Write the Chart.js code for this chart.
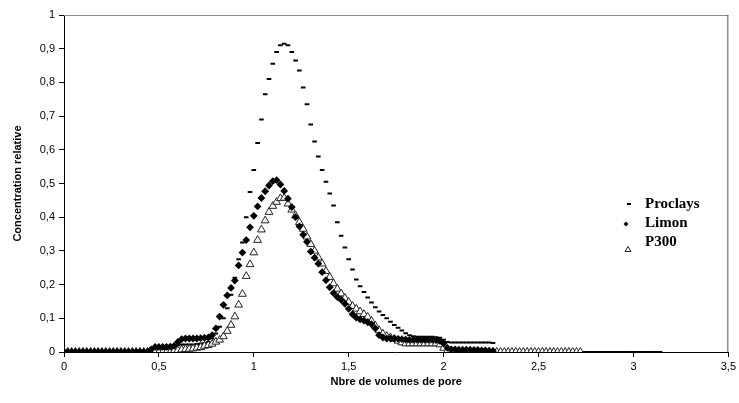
<!DOCTYPE html>
<html>
<head>
<meta charset="utf-8">
<script src="https://cdn.jsdelivr.net/npm/chart.js@4.4.1/dist/chart.umd.min.js"></script>
<style>
  html, body { margin: 0; padding: 0; background: #fff; }
  #wrap { width: 739px; height: 403px; }
</style>
</head>
<body>
<div id="wrap"><canvas id="chart" width="739" height="403"></canvas></div>
<script>
// Nbre de volumes de pore (pas de 0,02)
const volumes = [
  0, 0.02, 0.04, 0.06, 0.08, 0.10, 0.12, 0.14, 0.16, 0.18,
  0.20, 0.22, 0.24, 0.26, 0.28, 0.30, 0.32, 0.34, 0.36, 0.38,
  0.40, 0.42, 0.44, 0.46, 0.48, 0.50, 0.52, 0.54, 0.56, 0.58,
  0.60, 0.62, 0.64, 0.66, 0.68, 0.70, 0.72, 0.74, 0.76, 0.78,
  0.80, 0.82, 0.84, 0.86, 0.88, 0.90, 0.92, 0.94, 0.96, 0.98,
  1.00, 1.02, 1.04, 1.06, 1.08, 1.10, 1.12, 1.14, 1.16, 1.18,
  1.20, 1.22, 1.24, 1.26, 1.28, 1.30, 1.32, 1.34, 1.36, 1.38,
  1.40, 1.42, 1.44, 1.46, 1.48, 1.50, 1.52, 1.54, 1.56, 1.58,
  1.60, 1.62, 1.64, 1.66, 1.68, 1.70, 1.72, 1.74, 1.76, 1.78,
  1.80, 1.82, 1.84, 1.86, 1.88, 1.90, 1.92, 1.94, 1.96, 1.98,
  2.00, 2.02, 2.04, 2.06, 2.08, 2.10, 2.12, 2.14, 2.16, 2.18,
  2.20, 2.22, 2.24, 2.26, 2.28, 2.30, 2.32, 2.34, 2.36, 2.38,
  2.40, 2.42, 2.44, 2.46, 2.48, 2.50, 2.52, 2.54, 2.56, 2.58,
  2.60, 2.62, 2.64, 2.66, 2.68, 2.70, 2.72, 2.74, 2.76, 2.78,
  2.80, 2.82, 2.84, 2.86, 2.88, 2.90, 2.92, 2.94, 2.96, 2.98,
  3.00, 3.02, 3.04, 3.06, 3.08, 3.10, 3.12, 3.14, 3.16
];

// Concentration relative, une valeur par volume (null = pas de mesure)
const proclays = [
  0, 0, 0, 0, 0, 0, 0, 0, 0, 0,
  0, 0, 0, 0, 0, 0, 0, 0, 0, 0,
  0, 0, 0, 0, 0, 0.01, 0.01, 0.01, 0.012, 0.015,
  0.02, 0.022, 0.022, 0.022, 0.022, 0.024, 0.025, 0.026, 0.03, 0.04,
  0.055, 0.075, 0.10, 0.13, 0.17, 0.22, 0.275, 0.325, 0.40, 0.475,
  0.54, 0.62, 0.69, 0.765, 0.81, 0.855, 0.89, 0.91, 0.915, 0.91,
  0.89, 0.865, 0.835, 0.785, 0.735, 0.675, 0.625, 0.58, 0.54, 0.505,
  0.47, 0.435, 0.385, 0.345, 0.31, 0.275, 0.245, 0.215, 0.195, 0.178,
  0.162, 0.147, 0.133, 0.12, 0.11, 0.10, 0.09, 0.08, 0.072, 0.064,
  0.056, 0.05, 0.047, 0.045, 0.045, 0.045, 0.045, 0.045, 0.044, 0.042,
  0.036, 0.03, 0.028, 0.028, 0.028, 0.028, 0.028, 0.028, 0.028, 0.028,
  0.028, 0.028, 0.028, 0.027, 0, 0, 0, 0, 0, 0,
  0, 0, 0, 0, 0, 0, 0, 0, 0, 0,
  0, 0, 0, 0, 0, 0, 0, 0, 0, 0,
  0, 0, 0, 0, 0, 0, 0, 0, 0, 0,
  0, 0, 0, 0, 0, 0, 0, 0, null
];

const limon = [
  0, 0, 0, 0, 0, 0, 0, 0, 0, 0,
  0, 0, 0, 0, 0, 0, 0, 0, 0, 0,
  0, 0, 0, 0.008, 0.015, 0.015, 0.015, 0.015, 0.016, 0.018,
  0.03, 0.038, 0.04, 0.04, 0.04, 0.04, 0.041, 0.042, 0.043, 0.05,
  0.07, 0.105, 0.14, 0.168, 0.19, 0.212, 0.257, 0.295, 0.332, 0.37,
  0.404, 0.432, 0.457, 0.477, 0.494, 0.507, 0.51, 0.497, 0.478, 0.455,
  0.43, 0.40, 0.373, 0.348, 0.327, 0.298, 0.28, 0.262, 0.237, 0.213,
  0.192, 0.175, 0.163, 0.155, 0.143, 0.128, 0.112, 0.102, 0.097, 0.093,
  0.088, 0.083, 0.07, 0.05, 0.043, 0.04, 0.04, 0.04, 0.039, 0.038,
  0.037, 0.036, 0.036, 0.036, 0.036, 0.036, 0.036, 0.036, 0.035, 0.033,
  0.025, 0.012, 0.008, 0.008, 0.007, 0.007, 0.007, 0.007, 0.006, 0.006,
  0.005, 0.005, 0.004, 0.003, null, null, null, null, null, null,
  null, null, null, null, null, null, null, null, null, null,
  null, null, null, null, null, null, null, null, null, null,
  null, null, null, null, null, null, null, null, null, null,
  null, null, null, null, null, null, null, null, null
];

const p300 = [
  0, 0, 0, 0, 0, 0, 0, 0, 0, 0,
  0, 0, 0, 0, 0, 0, 0, 0, 0, 0,
  0, 0, 0, 0, 0, 0, 0, 0, 0, 0.003,
  0.005, 0.007, 0.008, 0.009, 0.01, 0.012, 0.014, 0.018, 0.02, 0.024,
  0.03, 0.036, 0.046, 0.062, 0.08, 0.105, 0.14, 0.172, 0.225, 0.26,
  0.295, 0.332, 0.363, 0.39, 0.415, 0.433, 0.445, 0.456, 0.457, 0.44,
  0.422, 0.405, 0.385, 0.365, 0.342, 0.32, 0.30, 0.28, 0.262, 0.24,
  0.222, 0.203, 0.187, 0.173, 0.16, 0.148, 0.136, 0.128, 0.12, 0.112,
  0.104, 0.092, 0.078, 0.064, 0.054, 0.047, 0.043, 0.038, 0.033, 0.028,
  0.025, 0.025, 0.025, 0.025, 0.025, 0.025, 0.025, 0.025, 0.025, 0.022,
  0.012, 0.004, 0, 0, 0, 0, 0, 0, 0, 0,
  0, 0, 0, 0, 0, 0, 0, 0, 0, 0,
  0, 0, 0, 0, 0, 0, 0, 0, 0, 0,
  0, 0, 0, 0, 0, 0, 0, null, null, null,
  null, null, null, null, null, null, null, null, null, null,
  null, null, null, null, null, null, null, null, null
];

const seriesNames = ["Proclays", "Limon", "P300"];

/**
 * Associe les volumes et une série en points {x, y}, sans les valeurs manquantes.
 * @param {number[]} values
 * @returns {{x:number, y:number}[]}
 */
function toPoints(values) {
  return volumes
    .map((x, i) => ({ x, y: values[i] }))
    .filter((p) => p.y !== null && p.y !== undefined);
}

/** Format français : 0.5 -> "0,5" */
function frNumber(v) {
  return String(Number(v.toFixed(1))).replace(".", ",");
}

// cadre gris (haut, droite) + légende à l'intérieur du graphique
const frameAndLegend = {
  id: "frameAndLegend",
  afterDraw(chart) {
    const { ctx, chartArea: a } = chart;
    ctx.save();
    ctx.lineWidth = 1;
    ctx.strokeStyle = "#8a8a8a";
    ctx.beginPath();
    ctx.moveTo(a.left, a.top + 0.5);
    ctx.lineTo(a.right, a.top + 0.5);
    ctx.stroke();
    ctx.strokeStyle = "#555";
    ctx.beginPath();
    ctx.moveTo(a.right - 0.5, a.top);
    ctx.lineTo(a.right - 0.5, a.bottom);
    ctx.stroke();

    // marqueurs
    ctx.fillStyle = "#000";
    ctx.fillRect(627, 203, 4, 2);

    ctx.beginPath();
    ctx.moveTo(626, 221.5);
    ctx.lineTo(628.5, 224);
    ctx.lineTo(626, 226.5);
    ctx.lineTo(623.5, 224);
    ctx.closePath();
    ctx.fill();

    ctx.strokeStyle = "#222";
    ctx.beginPath();
    ctx.moveTo(628, 246.5);
    ctx.lineTo(631, 251.5);
    ctx.lineTo(625, 251.5);
    ctx.closePath();
    ctx.stroke();

    // textes
    ctx.font = "bold 15px 'Liberation Serif'";
    ctx.textBaseline = "alphabetic";
    ctx.textAlign = "left";
    ctx.fillText(seriesNames[0], 645, 207.5);
    ctx.fillText(seriesNames[1], 645, 227);
    ctx.fillText(seriesNames[2], 645, 246);
    ctx.restore();
  },
};

const tickFont = { family: "'Liberation Sans'", size: 11 };
const titleFont = { family: "'Liberation Sans'", size: 11, weight: "bold" };

new Chart(document.querySelector("#chart"), {
  type: "scatter",
  data: {
    datasets: [
      {
        label: seriesNames[1],
        data: toPoints(limon),
        pointStyle: "rectRot",
        pointRadius: 3.9,
        backgroundColor: "#000",
        borderColor: "#000",
        borderWidth: 0,
        order: 1,
      },
      {
        label: seriesNames[2],
        data: toPoints(p300),
        pointStyle: "triangle",
        pointRadius: 4.5,
        backgroundColor: "#fff",
        borderColor: "#222",
        borderWidth: 1,
        order: 2,
      },
      {
        label: seriesNames[0],
        data: toPoints(proclays),
        pointStyle: "line",
        pointRadius: 2.3,
        borderColor: "#000",
        borderWidth: 2,
        order: 3,
      },
    ],
  },
  options: {
    responsive: false,
    animation: false,
    devicePixelRatio: 1,
    layout: { padding: { top: 15, right: 2, left: 0, bottom: 0 } },
    plugins: { legend: { display: false }, tooltip: { enabled: false } },
    scales: {
      x: {
        type: "linear",
        min: 0,
        max: 3.5,
        afterFit: (s) => { s.height = 51; },
        ticks: { stepSize: 0.5, color: "#000", font: tickFont, padding: 3, callback: frNumber },
        grid: { drawOnChartArea: false, tickLength: 5, color: "#000" },
        border: { color: "#000", width: 1 },
        title: { display: true, text: "Nbre de volumes de pore", color: "#000", font: titleFont, padding: { top: 0, bottom: 14 } },
      },
      y: {
        min: 0,
        max: 1,
        afterFit: (s) => { s.width = 64; },
        ticks: { stepSize: 0.1, color: "#000", font: tickFont, padding: 4, callback: frNumber },
        grid: { drawOnChartArea: false, tickLength: 5, color: "#000" },
        border: { color: "#000", width: 1 },
        title: { display: true, text: "Concentration relative", color: "#000", font: titleFont, padding: { top: 11, bottom: 0 } },
      },
    },
  },
  plugins: [frameAndLegend],
});
</script>
</body>
</html>
